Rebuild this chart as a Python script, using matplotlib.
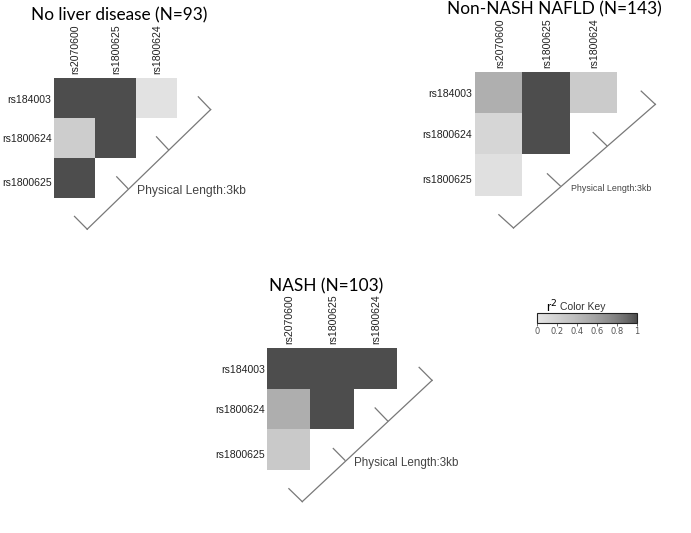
import numpy as np
import matplotlib
matplotlib.use('Agg')
import matplotlib.pyplot as plt
from matplotlib.colors import ListedColormap, Normalize
from matplotlib.cm import ScalarMappable

# SNP labels
row_snps = ['rs184003', 'rs1800624', 'rs1800625']
col_snps = ['rs2070600', 'rs1800625', 'rs1800624']

# r^2 values (nan = no cell)
nan = np.nan
r2_no_liver = [[1.00, 1.00, 0.04],
               [0.24, 1.00, nan],
               [1.00, nan, nan]]
r2_non_nash = [[0.49, 1.00, 0.26],
               [0.16, 1.00, nan],
               [0.06, nan, nan]]
r2_nash = [[1.00, 1.00, 1.00],
           [0.50, 1.00, nan],
           [0.28, nan, nan]]

titles = ['No liver disease (N=93)', 'Non-NASH NAFLD (N=143)', 'NASH (N=103)']
phys_label = 'Physical Length:3kb'
key_ticks = [0, 0.2, 0.4, 0.6, 0.8, 1]
key_ticklabels = ['0', '0.2', '0.4', '0.6', '0.8', '1']

# grey.colors style ramp (light at r2=0, dark at r2=1)
g = 2.2
lv = np.linspace(0.9 ** g, 0.3 ** g, 256) ** (1 / g)
cmap = ListedColormap(np.column_stack([lv, lv, lv]))

W, H = 691, 533
fig = plt.figure(figsize=(W / 100, H / 100), dpi=100)


def px_axes(x0, y0, x1, y1):
    return fig.add_axes([x0 / W, 1 - y1 / H, (x1 - x0) / W, (y1 - y0) / H])


def ld_panel(ax, r2, phys_size):
    data = np.ma.masked_invalid(np.array(r2, dtype=float))
    ax.pcolormesh(np.arange(4), np.arange(4), data, cmap=cmap, vmin=0, vmax=1)
    ax.set_xlim(0, 3)
    ax.set_ylim(3, 0)
    ax.axis('off')
    for i, s in enumerate(col_snps):
        ax.text(i + 0.52, -0.1, s, rotation=90, ha='center', va='bottom',
                fontsize=7.6, family='Liberation Sans', color='#222222', clip_on=False)
    for y, s in zip([0.54, 1.52, 2.62], row_snps):
        ax.text(-0.06, y, s, ha='right', va='center',
                fontsize=7.6, family='Liberation Sans', color='#222222', clip_on=False)
    # genetic map bracket
    lc = '#787878'
    kw = dict(color=lc, lw=0.9, clip_on=False)
    ax.plot([0.81, 3.82], [3.78, 0.79], **kw)
    ax.plot([3.82, 3.52], [0.79, 0.47], **kw)
    ax.plot([0.81, 0.50], [3.78, 3.46], **kw)
    ax.plot([2.79, 2.50], [1.79, 1.47], **kw)
    ax.plot([1.80, 1.53], [2.76, 2.47], **kw)
    ax.text(2.02, 2.82, phys_label, ha='left', va='center', fontsize=phys_size,
            family='Liberation Sans', color='#444444', clip_on=False)


ax1 = px_axes(54, 78, 177, 198)
ld_panel(ax1, r2_no_liver, 8.7)
ax2 = px_axes(475.3, 71.7, 616.7, 195.7)
ld_panel(ax2, r2_non_nash, 6.4)
ax3 = px_axes(267.3, 348.3, 396.7, 470)
ld_panel(ax3, r2_nash, 8.4)

# panel titles
for (x, y), t in zip([(118.7, 15), (554, 9), (325.8, 286.7)], titles):
    fig.text(x / W, 1 - y / H, t, ha='center', va='center', fontsize=12.4,
             family='Lato', color='black')

# colour key
cax = px_axes(536.7, 313.3, 636.7, 322.7)
cb = fig.colorbar(ScalarMappable(norm=Normalize(0, 1), cmap=cmap), cax=cax,
                  orientation='horizontal', ticks=key_ticks)
cb.ax.set_xticklabels(key_ticklabels)
cb.ax.tick_params(labelsize=6, length=2, width=0.6, pad=1, colors='#555555')
cb.outline.set_linewidth(0.8)
cb.outline.set_edgecolor('#222222')
fig.text(546 / W, 1 - 307 / H, 'r$^2$', ha='left', va='center', fontsize=9.5,
         family='Liberation Sans', color='black')
fig.text(560 / W, 1 - 307 / H, 'Color Key', ha='left', va='center', fontsize=7.5,
         family='Liberation Sans', color='#333333')

fig.savefig('out.png', dpi=100, facecolor='white')
